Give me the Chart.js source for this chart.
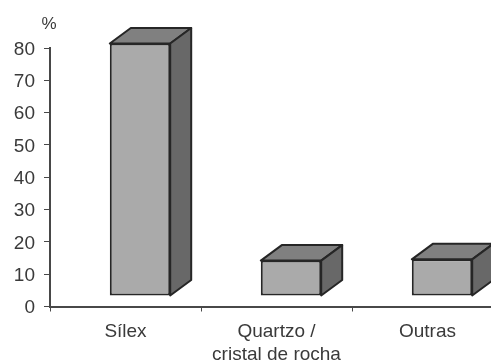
<!DOCTYPE html>
<html lang="pt">

<head>
  <meta charset="UTF-8" />
  <title>Matérias-primas</title>
  <script src="https://cdn.jsdelivr.net/npm/chart.js"></script>
  <style>
    html, body { margin: 0; background: #fff; overflow: hidden; }
    /* the x axis runs on past the right edge of the window */
    .wrap { position: relative; width: 503px; height: 362px; }
  </style>
</head>

<body>
  <div class="wrap"><canvas id="rawMaterialChart"></canvas></div>

  <script>
    const categories = ['Sílex', ['Quartzo /', 'cristal de rocha'], 'Outras'];
    const percentages = [78, 10.8, 11.2];
    const yTicks = [0, 10, 20, 30, 40, 50, 60, 70, 80];
    // the bars stand on a raised floor, above the axis line
    const barFloor = 3.4;

    const textColor = '#3a3a3a';
    const axisColor = '#484848';
    const edgeColor = '#262626';
    const depth = { x: 21, y: 15.5 };
    const barShift = 14.5;

    function face(ctx, points, fill) {
      ctx.beginPath();
      points.forEach(([x, y], i) => i ? ctx.lineTo(x, y) : ctx.moveTo(x, y));
      ctx.closePath();
      ctx.fillStyle = fill;
      ctx.fill();
      ctx.stroke();
    }

    // top and side faces for the boxes, plus the % caption over the y axis
    const boxFaces = {
      id: 'boxFaces',
      beforeDatasetsDraw(chart) {
        chart.ctx.save();
        chart.ctx.translate(barShift, 0);
      },
      afterDatasetsDraw(chart) {
        const ctx = chart.ctx;
        ctx.strokeStyle = edgeColor;
        ctx.lineWidth = 2;
        ctx.lineJoin = 'round';
        chart.getDatasetMeta(0).data.forEach(bar => {
          const { x, y, base, width } = bar.getProps(['x', 'y', 'base', 'width'], true);
          const left = x - width / 2;
          const right = x + width / 2;
          face(ctx, [[left, y], [left + depth.x, y - depth.y], [right + depth.x, y - depth.y], [right, y]], '#808080');
          face(ctx, [[right, y], [right + depth.x, y - depth.y], [right + depth.x, base - depth.y], [right, base]], '#686868');
        });
        ctx.restore();

        const yScale = chart.scales.y;
        ctx.save();
        ctx.fillStyle = textColor;
        ctx.font = '17px "Liberation Sans"';
        ctx.textAlign = 'center';
        ctx.fillText('%', yScale.right - 1, yScale.getPixelForValue(80) - 19);
        ctx.restore();
      }
    };

    new Chart(document.getElementById('rawMaterialChart'), {
      type: 'bar',
      data: {
        labels: categories,
        datasets: [{
          data: percentages.map(v => [barFloor, barFloor + v]),
          backgroundColor: '#aaaaaa',
          borderColor: edgeColor,
          borderWidth: 2,
          borderSkipped: false,
          barPercentage: 0.4,
          categoryPercentage: 1,
          clip: false
        }]
      },
      options: {
        responsive: true,
        maintainAspectRatio: false,
        animation: false,
        layout: { padding: { top: 48 } },
        plugins: {
          legend: { display: false },
          tooltip: { enabled: false }
        },
        scales: {
          x: {
            grid: { drawOnChartArea: false, tickLength: 5, color: axisColor },
            border: { color: axisColor, width: 2 },
            afterFit: scale => { scale.height = 55.5; },
            ticks: {
              color: textColor,
              padding: 9,
              maxRotation: 0,
              autoSkip: false,
              font: { family: '"Liberation Sans"', size: 19 }
            }
          },
          y: {
            min: 0,
            max: 80,
            grid: { drawOnChartArea: false, tickLength: 6, color: axisColor },
            border: { color: axisColor, width: 2 },
            afterFit: scale => { scale.width = 50; },
            afterBuildTicks: scale => { scale.ticks = yTicks.map(value => ({ value })); },
            ticks: {
              color: textColor,
              padding: 9,
              labelOffset: 1.5,
              font: { family: '"Liberation Sans"', size: 19 }
            }
          }
        }
      },
      plugins: [boxFaces]
    });
  </script>
</body>

</html>
